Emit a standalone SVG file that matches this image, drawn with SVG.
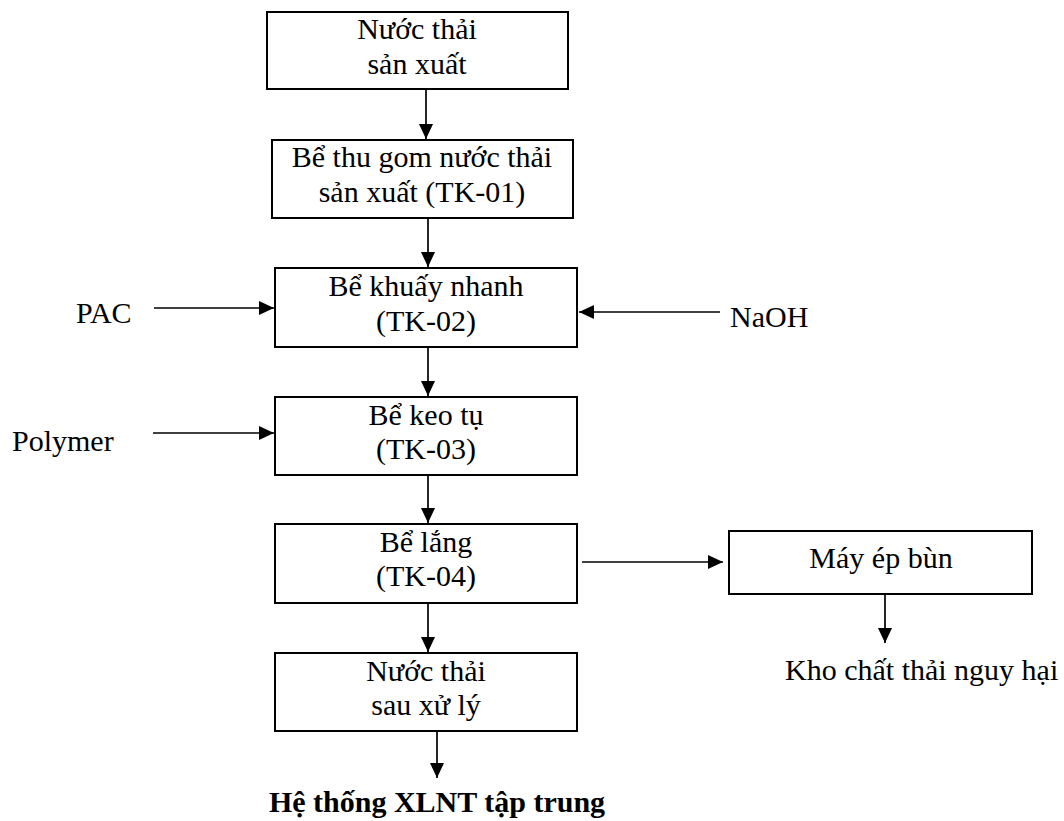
<svg xmlns="http://www.w3.org/2000/svg" width="1064" height="821" viewBox="0 0 1064 821">
  <style>
    .box { fill: #ffffff; stroke: #000000; stroke-width: 2; }
    .lbl { font-family: "Liberation Serif", "Times New Roman", serif; font-size: 30px; fill: #000000; }
    .mid { text-anchor: middle; }
    .bold { font-weight: bold; }
    .wire { fill: none; stroke: #000000; stroke-width: 1.7; marker-end: url(#head); }
  </style>
  <defs>
    <marker id="head" markerUnits="userSpaceOnUse" markerWidth="15" markerHeight="14" refX="15" refY="7" orient="auto">
      <path d="M0,0 L15,7 L0,14 Z" fill="#000000"/>
    </marker>
  </defs>
  <rect width="1064" height="821" fill="#ffffff"/>

  <!-- process boxes -->
  <g id="n-nuoc-thai-san-xuat">
    <rect class="box" x="267" y="12" width="301" height="77"/>
    <text class="lbl mid" x="417" y="39">Nước thải</text>
    <text class="lbl mid" x="417" y="74">sản xuất</text>
  </g>
  <g id="n-tk01">
    <rect class="box" x="272" y="140" width="301" height="78"/>
    <text class="lbl mid" x="422" y="167">Bể thu gom nước thải</text>
    <text class="lbl mid" x="422" y="202">sản xuất (TK-01)</text>
  </g>
  <g id="n-tk02">
    <rect class="box" x="275" y="268" width="302" height="79"/>
    <text class="lbl mid" x="426" y="296">Bể khuấy nhanh</text>
    <text class="lbl mid" x="426" y="331">(TK-02)</text>
  </g>
  <g id="n-tk03">
    <rect class="box" x="275" y="397" width="302" height="78"/>
    <text class="lbl mid" x="426" y="425">Bể keo tụ</text>
    <text class="lbl mid" x="426" y="459">(TK-03)</text>
  </g>
  <g id="n-tk04">
    <rect class="box" x="275" y="524" width="302" height="79"/>
    <text class="lbl mid" x="426" y="552">Bể lắng</text>
    <text class="lbl mid" x="426" y="586">(TK-04)</text>
  </g>
  <g id="n-nuoc-thai-sau-xu-ly">
    <rect class="box" x="275" y="653" width="302" height="78"/>
    <text class="lbl mid" x="426" y="681">Nước thải</text>
    <text class="lbl mid" x="426" y="715">sau xử lý</text>
  </g>
  <g id="n-may-ep-bun">
    <rect class="box" x="729" y="531" width="303" height="63"/>
    <text class="lbl mid" x="881" y="568">Máy ép bùn</text>
  </g>

  <!-- inputs and outputs -->
  <g id="n-pac">
    <text class="lbl" x="76" y="323">PAC</text>
  </g>
  <g id="n-naoh">
    <text class="lbl" x="730" y="327">NaOH</text>
  </g>
  <g id="n-polymer">
    <text class="lbl" x="12" y="451">Polymer</text>
  </g>
  <g id="n-kho-chat-thai">
    <text class="lbl" x="785" y="680">Kho chất thải nguy hại</text>
  </g>
  <g id="n-he-thong-xlnt">
    <text class="lbl mid bold" x="437" y="812">Hệ thống XLNT tập trung</text>
  </g>

  <!-- connectors -->
  <g id="connectors">
    <line class="wire" x1="426" y1="89" x2="426" y2="139"/>
    <line class="wire" x1="428" y1="218" x2="428" y2="267"/>
    <line class="wire" x1="428" y1="347" x2="428" y2="396"/>
    <line class="wire" x1="428" y1="475" x2="428" y2="523"/>
    <line class="wire" x1="428" y1="603" x2="428" y2="652"/>
    <line class="wire" x1="437" y1="731" x2="437" y2="778"/>
    <line class="wire" x1="154" y1="308" x2="274" y2="308"/>
    <line class="wire" x1="720" y1="312" x2="579" y2="312"/>
    <line class="wire" x1="153" y1="433" x2="274" y2="433"/>
    <line class="wire" x1="582" y1="562" x2="723" y2="562"/>
    <line class="wire" x1="885" y1="594" x2="885" y2="643"/>
  </g>
</svg>
